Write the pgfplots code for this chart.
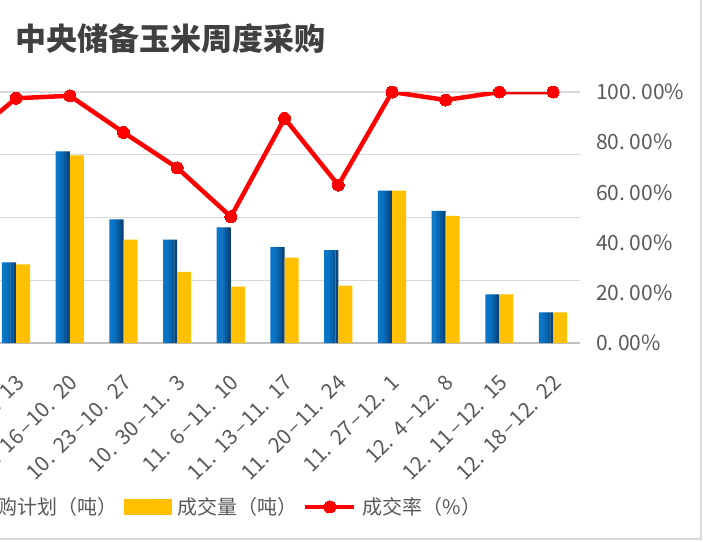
\documentclass[border=0pt]{standalone}
\usepackage{fontspec}
\setmainfont{Noto Sans CJK SC}
\usepackage{pgfplots}
\pgfplotsset{compat=1.18}
\usepackage{pgfplotstable}

\definecolor{planA}{HTML}{0B77C9}
\definecolor{planB}{HTML}{0A72C2}
\definecolor{planC}{HTML}{0968B4}
\definecolor{planD}{HTML}{08589C}
\definecolor{planE}{HTML}{0A4479}
\definecolor{dealY}{HTML}{FFC000}
\definecolor{rateR}{HTML}{FF0000}
\definecolor{gridC}{HTML}{D9D9D9}
\definecolor{axisC}{HTML}{BFBFBF}
\definecolor{textC}{HTML}{595959}
\definecolor{titleC}{HTML}{404040}
\newcommand{\p}{.\hspace{0.22em}}
\newcommand{\q}{.\hspace{0.42em}}
\newcommand{\dd}{\hspace{0.08em}–\hspace{0.08em}}

\pgfplotsset{
  base/.style={scale only axis, width=580pt, height=251pt,
    xmin=-0.3, xmax=10.5},
  strip/.style={ybar, draw=none, fill=#1, bar width=3.2pt},
  rate legend/.style={legend image code/.code={
    \draw[##1, mark repeat=2, mark phase=2] plot coordinates {(0pt,0pt) (24.5pt,0pt) (49pt,0pt)};}},
}

% bar heights on a hidden left scale (4 grid steps of 50)
\pgfplotstableread{
x plan deal
0 64.3 62.7
1 152.7 149.6
2 98.6 82.3
3 82.3 56.6
4 92.2 44.9
5 76.3 68.0
6 74.1 45.7
7 121.4 121.4
8 105.2 101.2
9 38.8 38.8
10 24.5 24.5
}\bars

% deal rate in percent (x=-1 is the week left of the visible part)
\pgfplotstableread{
x rate
-1 79.7
0 97.5
1 98.5
2 83.9
3 69.8
4 50.3
5 89.5
6 62.9
7 100
8 96.8
9 100
10 100
}\rate

\begin{document}
\begin{tikzpicture}
\begin{axis}[base,
  ymin=0, ymax=200, ytick={0,50,...,200}, yticklabels={},
  axis x line*=bottom, axis y line*=left,
  y axis line style={draw=none}, ytick style={draw=none},
  x axis line style={axisC, line width=1.5pt},
  ymajorgrids, grid style={gridC, line width=1.2pt},
  xtick={0,...,10}, xtick style={draw=none},
  xticklabels={10\q9\dd10\q13, 10\q16\dd10\q20, 10\q23\dd10\q27, 10\q30\dd11\q3,
    11\q6\dd11\q10, 11\q13\dd11\q17, 11\q20\dd11\q24, 11\q27\dd12\q1,
    12\q4\dd12\q8, 12\q11\dd12\q15, 12\q18\dd12\q22},
  xticklabel style={font=\fontsize{21}{21}\selectfont, text=textC,
    inner sep=0pt, xshift=4pt, yshift=-36pt, rotate=45, anchor=east},
]
% blue bars drawn as five strips, light on the left and dark on the right
\addplot[strip=planA, bar shift=-12.6pt] table[x=x, y=plan]{\bars};
\addplot[strip=planB, bar shift=-9.8pt] table[x=x, y=plan]{\bars};
\addplot[strip=planC, bar shift=-7pt] table[x=x, y=plan]{\bars};
\addplot[strip=planD, bar shift=-4.2pt] table[x=x, y=plan]{\bars};
\addplot[strip=planE, bar shift=-1.4pt, bar width=2.8pt] table[x=x, y=plan]{\bars};
\addplot[ybar, draw=none, fill=dealY, bar width=14pt, bar shift=7pt] table[x=x, y=deal]{\bars};
\end{axis}

\begin{axis}[base,
  ymin=0, ymax=100, axis x line=none, axis y line*=right,
  y axis line style={draw=none}, ytick style={draw=none},
  ytick={0,20,...,100},
  yticklabels={0\p00\%, 20\p00\%, 40\p00\%, 60\p00\%, 80\p00\%, 100\p00\%},
  yticklabel style={font=\fontsize{21}{21}\selectfont, text=textC,
    anchor=west, inner sep=0pt, xshift=16pt},
  legend columns=-1,
  legend style={at={(0.835,-0.653)}, anchor=east, draw=none, fill=none,
    inner sep=0pt, font=\fontsize{20}{20}\selectfont, text=textC,
    nodes={inner sep=3pt},
    /tikz/every odd column/.append style={column sep=3pt},
    /tikz/every even column/.append style={column sep=3pt}},
]
\addlegendimage{legend image code/.code={
  \fill[left color=planA, right color=planE] (0pt,-7.5pt) rectangle (47pt,7.5pt);}}
\addlegendentry{采购计划（吨）}
\addlegendimage{legend image code/.code={
  \fill[dealY] (0pt,-7.5pt) rectangle (47pt,7.5pt);}}
\addlegendentry{成交量（吨）}
\addplot[rateR, line width=4.5pt, line join=round, mark=*, mark size=6pt,
  mark options={fill=rateR, draw=rateR, line width=0pt}, rate legend]
  table[x=x, y=rate]{\rate};
\addlegendentry{成交率（\%）}
\end{axis}

\node[anchor=west, inner sep=0pt, text=titleC,
  font=\fontsize{31}{31}\selectfont\bfseries] at (15pt, 304pt) {中央储备玉米周度采购};

\draw[gridC, line width=1.5pt] (-5pt,-196pt) -- (701pt,-196pt) -- (701pt,350pt);

\pgfresetboundingbox
\path[use as bounding box] (0pt,-198pt) rectangle (703pt,343pt);
\end{tikzpicture}
\end{document}
